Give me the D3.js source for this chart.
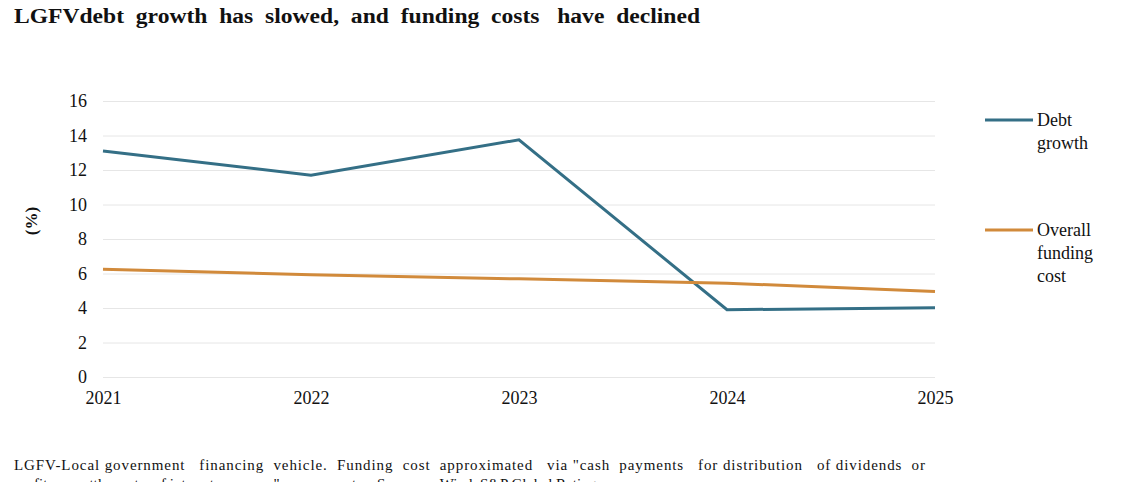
<!DOCTYPE html>
<html>
<head>
<meta charset="utf-8">
<script src="https://cdn.jsdelivr.net/npm/d3@7"></script>
<style>
  body { margin: 0; background: #fff; }
  svg text { font-family: "Liberation Serif", "Times New Roman", serif !important; fill: #111; }
</style>
</head>
<body>
<div id="vis"></div>
<script>
const FRAME_WIDTH = 1130;
const FRAME_HEIGHT = 482;
const MARGINS = {left: 103, right: 195, top: 101, bottom: 105};

const VIS_WIDTH = FRAME_WIDTH - MARGINS.left - MARGINS.right;
const VIS_HEIGHT = FRAME_HEIGHT - MARGINS.top - MARGINS.bottom;

// data
const YEARS = ["2021", "2022", "2023", "2024", "2025"];
const DEBT_GROWTH = [13.1, 11.7, 13.75, 3.9, 4.02];
const FUNDING_COST = [6.25, 5.93, 5.69, 5.44, 4.96];
const Y_TICKS = [0, 2, 4, 6, 8, 10, 12, 14, 16];

const SERIES = [
  {name: ["Debt", "growth"], values: DEBT_GROWTH, color: "#346f86", legendY: 120},
  {name: ["Overall", "funding", "cost"], values: FUNDING_COST, color: "#d18a3b", legendY: 230}
];

const svg = d3.select("#vis")
  .append("svg")
    .attr("width", FRAME_WIDTH)
    .attr("height", FRAME_HEIGHT);

// title
svg.append("text")
    .attr("x", 14)
    .attr("y", 23)
    .attr("font-size", "20px")
    .attr("font-weight", "bold")
    .attr("textLength", 686)
    .attr("lengthAdjust", "spacingAndGlyphs")
    .style("white-space", "pre")
    .text("LGFVdebt  growth  has  slowed,  and  funding  costs   have  declined");

const X_SCALE = d3.scalePoint()
  .domain(YEARS)
  .range([0, VIS_WIDTH]);

const Y_SCALE = d3.scaleLinear()
  .domain([0, 16])
  .range([VIS_HEIGHT, 0]);

const plot = svg.append("g")
  .attr("transform", "translate(" + MARGINS.left + "," + MARGINS.top + ")");

// gridlines
plot.append("g")
  .call(d3.axisLeft(Y_SCALE).tickValues(Y_TICKS).tickSize(-VIS_WIDTH).tickFormat(""))
  .call(g => g.select(".domain").remove())
  .call(g => g.selectAll("line").attr("stroke", "#e6e6e6").attr("stroke-width", 1));

// y tick labels
plot.append("g")
  .call(d3.axisLeft(Y_SCALE).tickValues(Y_TICKS).tickSize(0).tickPadding(16))
  .call(g => g.select(".domain").remove())
  .call(g => g.selectAll("text")
    .style("font-size", "18px")
    .attr("fill", "#111"));

// x tick labels
plot.append("g")
  .attr("transform", "translate(0," + VIS_HEIGHT + ")")
  .call(d3.axisBottom(X_SCALE).tickSize(0).tickPadding(14))
  .call(g => g.select(".domain").remove())
  .call(g => g.selectAll("text")
    .style("font-size", "18px")
    .attr("fill", "#111"));

// y axis title
svg.append("text")
  .attr("transform", "translate(37,221) rotate(-90)")
  .attr("text-anchor", "middle")
  .attr("font-size", "17px")
  .attr("font-weight", "bold")
  .text("(%)");

// lines
const line = d3.line()
  .x((d, i) => X_SCALE(YEARS[i]))
  .y(d => Y_SCALE(d));

plot.selectAll(".series")
  .data(SERIES)
  .enter()
  .append("path")
    .attr("class", "series")
    .attr("d", d => line(d.values))
    .attr("fill", "none")
    .attr("stroke", d => d.color)
    .attr("stroke-width", 3)
    .attr("stroke-linejoin", "miter");

// legend
const legend = svg.selectAll(".legend")
  .data(SERIES)
  .enter()
  .append("g")
    .attr("class", "legend")
    .attr("transform", d => "translate(985," + d.legendY + ")");

legend.append("line")
  .attr("x1", 0).attr("x2", 48)
  .attr("y1", 0).attr("y2", 0)
  .attr("stroke", d => d.color)
  .attr("stroke-width", 3);

legend.selectAll("text")
  .data(d => d.name)
  .enter()
  .append("text")
    .attr("x", 52)
    .attr("y", (d, i) => 6 + i * 23)
    .attr("font-size", "18px")
    .text(d => d);

// footnote
const NOTES = [
  "LGFV-Local government   financing  vehicle.  Funding  cost  approximated   via \"cash  payments   for distribution   of dividends  or",
  "profits  or settlement    of interest   expense\"   on accounts.   Sources:   Wind, S&P Global Ratings."
];
svg.selectAll(".note")
  .data(NOTES)
  .enter()
  .append("text")
    .attr("class", "note")
    .attr("x", 14)
    .attr("y", (d, i) => 470 + i * 19)
    .attr("font-size", "15px")
    .style("white-space", "pre")
    .attr("textLength", (d, i) => i === 0 ? 911 : null)
    .attr("lengthAdjust", "spacing")
    .text(d => d);
</script>
</body>
</html>
